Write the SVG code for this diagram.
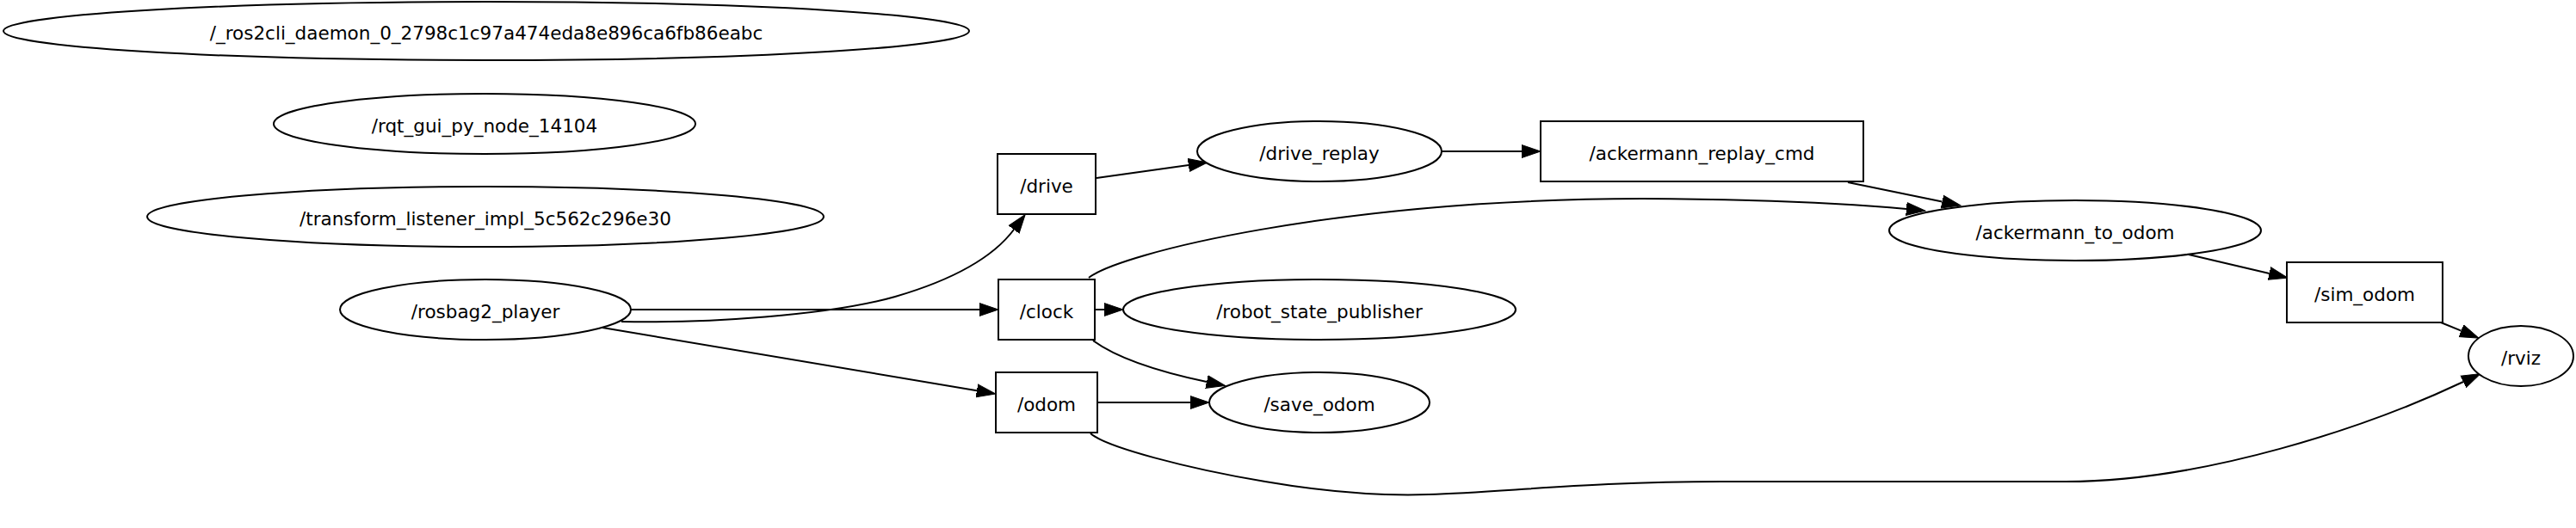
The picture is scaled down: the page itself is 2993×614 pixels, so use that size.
<svg xmlns="http://www.w3.org/2000/svg" width="2993" height="614" viewBox="0 0 2993 614">
<style>
.n ellipse, .n rect { fill: #fff; stroke: #000; stroke-width: 2; }
.n text { font-family: "DejaVu Sans", Verdana, sans-serif; font-size: 21.5px; fill: #000; text-anchor: middle; }
.e path { fill: none; stroke: #000; stroke-width: 2; marker-end: url(#arr); }
</style>
<defs>
<marker id="arr" markerUnits="userSpaceOnUse" markerWidth="24" markerHeight="18" viewBox="0 0 24 18" refX="0" refY="9" orient="auto">
<path d="M0,1.5 L22,9 L0,16.5 z" fill="#000" stroke="#000" stroke-width="1"/>
</marker>
</defs>
<rect width="2993" height="614" fill="#fff"/>
<g id="connectors" class="e">
<path d="M733,360 L1138,360"/>
<path d="M722,374 C820,376 963,367 1040,345 C1088,331 1148,307 1178,267"/>
<path d="M700,381 L1135,454.3"/>
<path d="M1274,207 L1381,192"/>
<path d="M1675,176 L1768,176"/>
<path d="M2147,212 L2256.5,234.6"/>
<path d="M1265,323 C1300,295 1550,232 1908,231 C2050,232 2150,237 2215,243"/>
<path d="M1273,360 L1283,360"/>
<path d="M1270,396 C1300,418 1350,433 1402,444"/>
<path d="M1276,468 L1383,468"/>
<path d="M1267,504 C1285,520 1380,545 1470,560 C1540,572 1600,577 1660,575 C1750,572 1850,560 2000,560 L2400,560 C2560,560 2750,497 2862,444"/>
<path d="M2543,296 L2636.6,318"/>
<path d="M2836,375 L2859.6,384.7"/>
</g>
<g id="ros2cli_daemon" class="n"><ellipse cx="565" cy="36" rx="561" ry="34"/><text x="565" y="45.5">/_ros2cli_daemon_0_2798c1c97a474eda8e896ca6fb86eabc</text></g>
<g id="rqt_gui" class="n"><ellipse cx="563" cy="144" rx="245" ry="35"/><text x="563" y="153.5">/rqt_gui_py_node_14104</text></g>
<g id="transform_listener" class="n"><ellipse cx="564" cy="252" rx="393" ry="35"/><text x="564" y="261.5">/transform_listener_impl_5c562c296e30</text></g>
<g id="rosbag2_player" class="n"><ellipse cx="564" cy="360" rx="169" ry="35"/><text x="564" y="369.5">/rosbag2_player</text></g>
<g id="drive" class="n"><rect x="1159" y="179" width="114" height="70"/><text x="1216" y="223.5">/drive</text></g>
<g id="clock" class="n"><rect x="1160" y="325" width="112" height="70"/><text x="1216" y="369.5">/clock</text></g>
<g id="odom" class="n"><rect x="1157" y="433" width="118" height="70"/><text x="1216" y="477.5">/odom</text></g>
<g id="drive_replay" class="n"><ellipse cx="1533" cy="176" rx="142" ry="35"/><text x="1533" y="185.5">/drive_replay</text></g>
<g id="robot_state_publisher" class="n"><ellipse cx="1533" cy="360" rx="228" ry="35"/><text x="1533" y="369.5">/robot_state_publisher</text></g>
<g id="save_odom" class="n"><ellipse cx="1533" cy="468" rx="128" ry="35"/><text x="1533" y="477.5">/save_odom</text></g>
<g id="ackermann_replay_cmd" class="n"><rect x="1790" y="141" width="375" height="70"/><text x="1977.5" y="185.5">/ackermann_replay_cmd</text></g>
<g id="ackermann_to_odom" class="n"><ellipse cx="2411" cy="268" rx="216" ry="35"/><text x="2411" y="277.5">/ackermann_to_odom</text></g>
<g id="sim_odom" class="n"><rect x="2657" y="305" width="181" height="70"/><text x="2747.5" y="349.5">/sim_odom</text></g>
<g id="rviz" class="n"><ellipse cx="2929" cy="414" rx="61" ry="35"/><text x="2929" y="423.5">/rviz</text></g>
</svg>
